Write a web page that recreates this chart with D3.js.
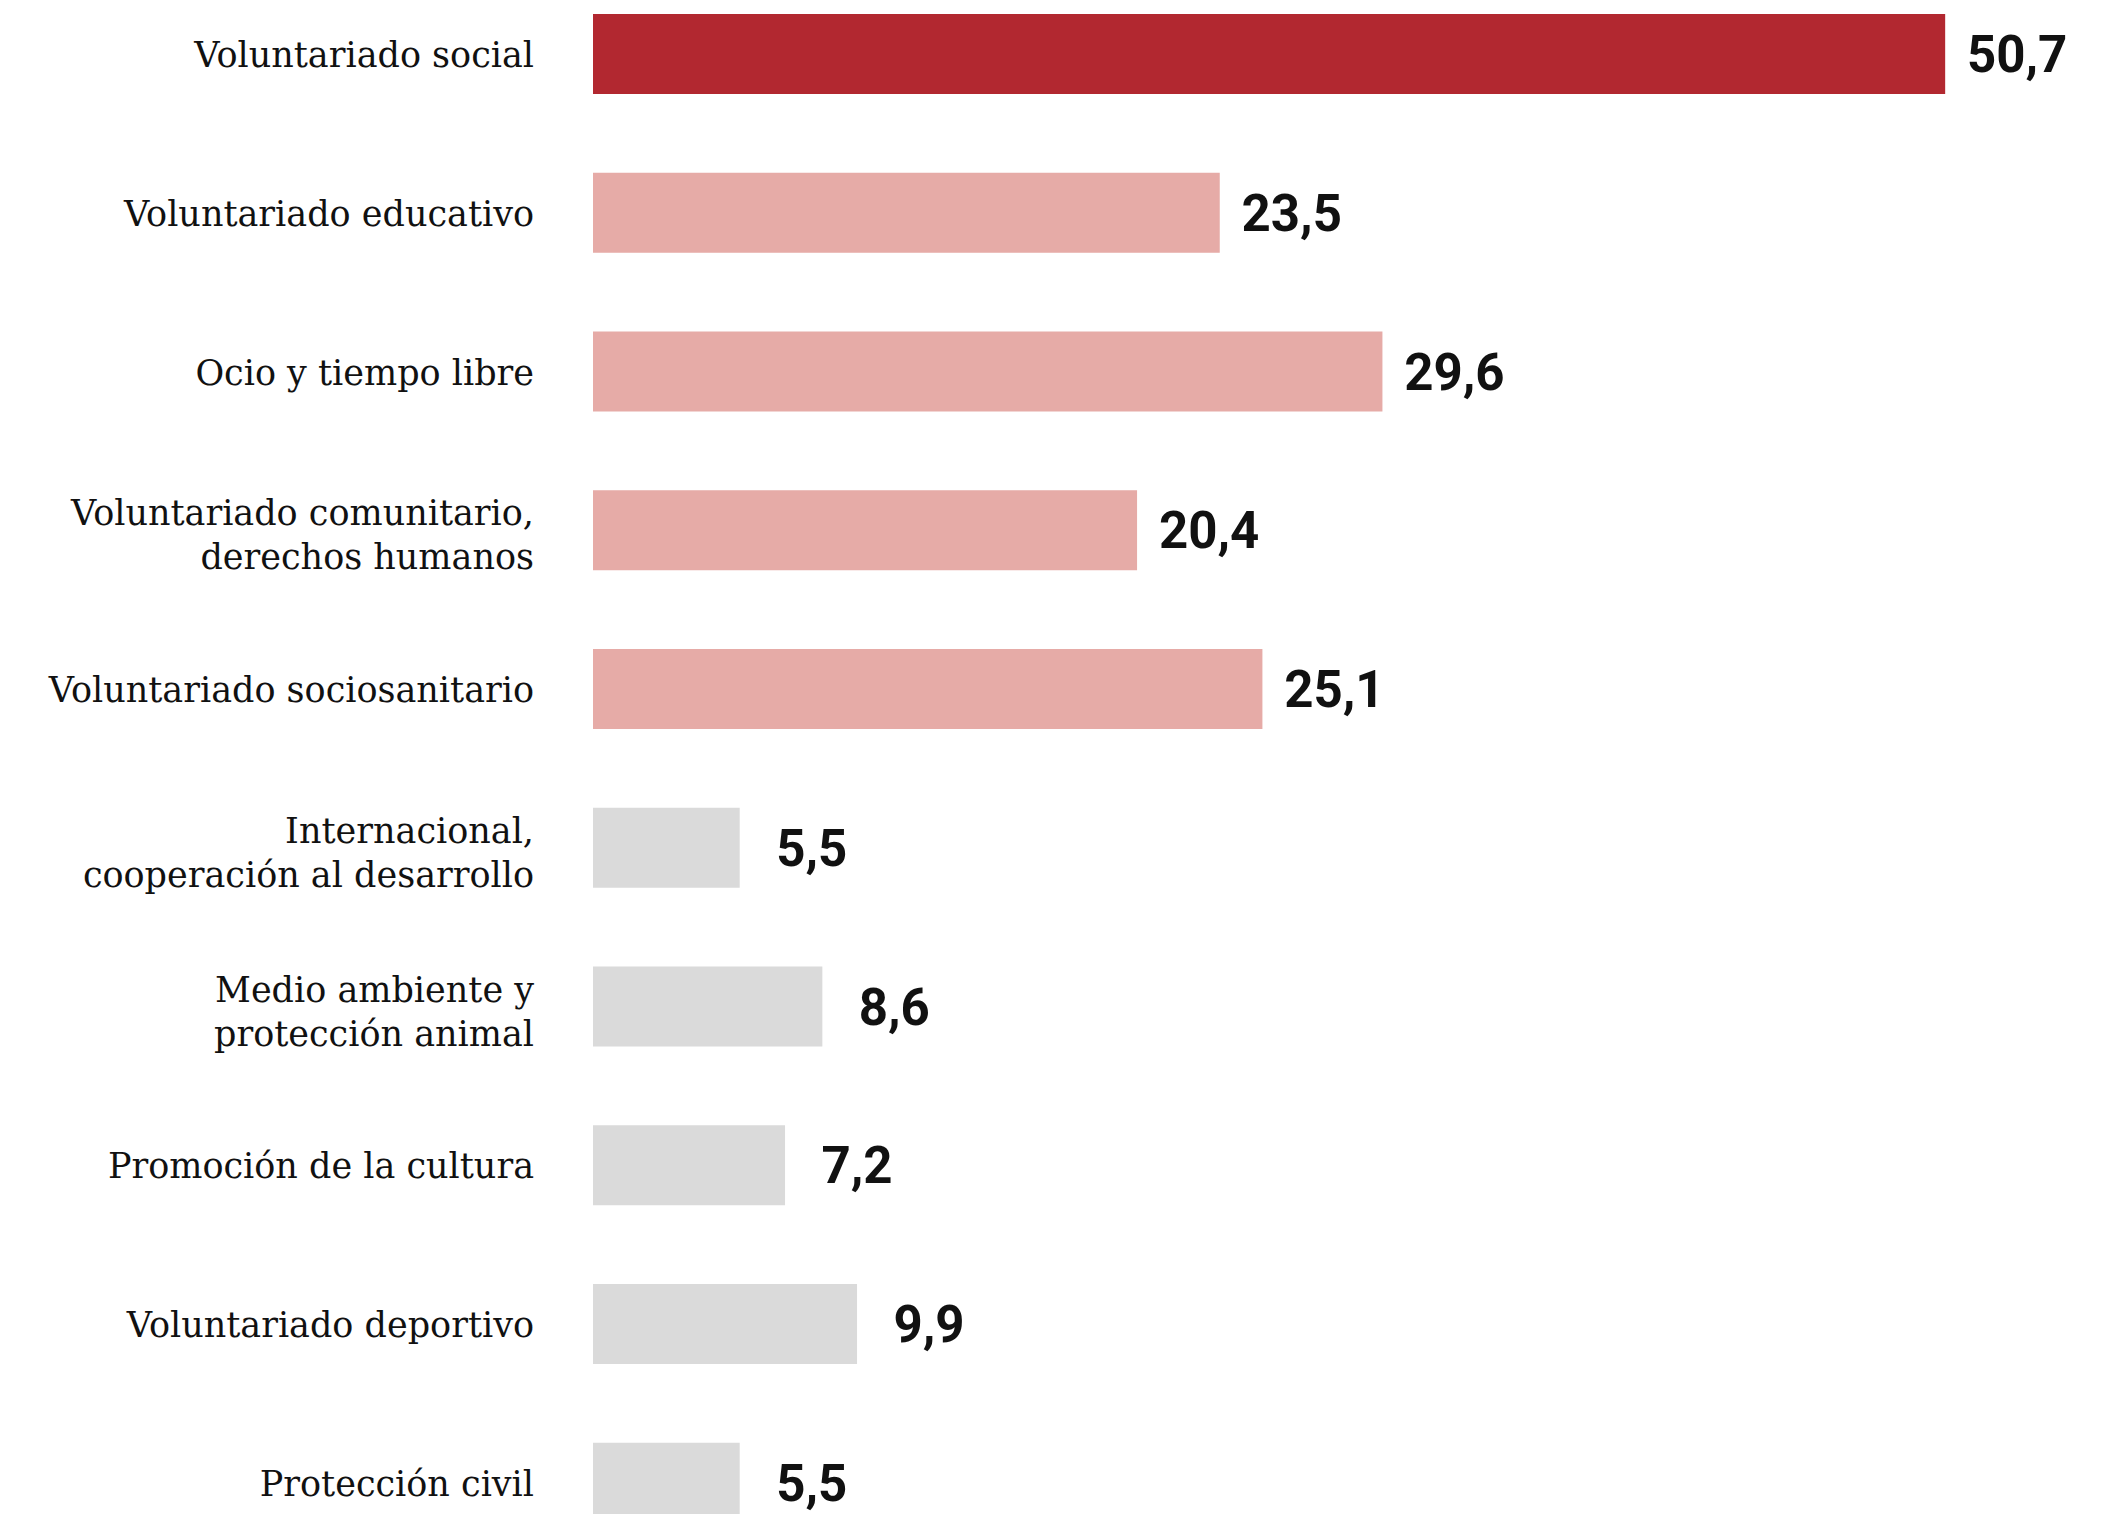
<!DOCTYPE html>
<html>
<head>
<meta charset="utf-8">
<script src="https://cdn.jsdelivr.net/npm/d3@7"></script>
<style>
  html, body { margin: 0; padding: 0; background: #ffffff; overflow: hidden; }
  svg { display: block; }
</style>
</head>
<body>
<svg id="chart" width="2121" height="1514"></svg>
<script>
// ---- data ----
const categories = [
  ["Voluntariado social"],
  ["Voluntariado educativo"],
  ["Ocio y tiempo libre"],
  ["Voluntariado comunitario,", "derechos humanos"],
  ["Voluntariado sociosanitario"],
  ["Internacional,", "cooperación al desarrollo"],
  ["Medio ambiente y", "protección animal"],
  ["Promoción de la cultura"],
  ["Voluntariado deportivo"],
  ["Protección civil"]
];
const values = [50.7, 23.5, 29.6, 20.4, 25.1, 5.5, 8.6, 7.2, 9.9, 5.5];
const valueLabels = ["50,7", "23,5", "29,6", "20,4", "25,1", "5,5", "8,6", "7,2", "9,9", "5,5"];
const groups = ["main", "mid", "mid", "mid", "mid", "low", "low", "low", "low", "low"];

// ---- layout ----
const colors = { main: "#B22830", mid: "#E6ABA7", low: "#DADADA" };
const svg = d3.select("#chart");
const x0 = 593;
const pxPerUnit = 26.67;
const x = d3.scaleLinear().domain([0, 50.7]).range([x0, x0 + 50.7 * pxPerUnit]);
const idx = d3.range(values.length);

const bh = 80;
const step = 158.75;
const top0 = 14;
const y = d3.scaleLinear().domain([0, 1]).range([top0, top0 + step]);
const yTop = i => y(i);

svg.selectAll("rect.bar")
  .data(idx)
  .join("rect")
  .attr("class", "bar")
  .attr("x", x(0))
  .attr("y", i => yTop(i))
  .attr("width", i => x(values[i]) - x(0))
  .attr("height", bh)
  .attr("fill", i => colors[groups[i]]);

// value labels
svg.selectAll("text.val")
  .data(idx)
  .join("text")
  .attr("class", "val")
  .attr("x", i => x(values[i]) + 72)
  .attr("y", i => yTop(i) + bh / 2 + 18)
  .attr("text-anchor", "middle")
  .attr("font-family", "Roboto, 'Noto Sans', sans-serif")
  .attr("font-weight", 700)
  .attr("font-size", 51)
  .attr("fill", "#111")
  .text(i => valueLabels[i]);

// category labels
const lab = svg.selectAll("text.cat")
  .data(idx)
  .join("text")
  .attr("class", "cat")
  .attr("x", 534)
  .attr("text-anchor", "end")
  .attr("font-family", "'DejaVu Serif', serif")
  .attr("font-size", 35)
  .attr("fill", "#111");

lab.each(function(i) {
  const lines = categories[i];
  const c = yTop(i) + bh / 2;
  const t = d3.select(this);
  if (lines.length === 1) {
    t.append("tspan").attr("x", 534).attr("y", c + 13).text(lines[0]);
  } else {
    t.append("tspan").attr("x", 534).attr("y", c - 5).text(lines[0]);
    t.append("tspan").attr("x", 534).attr("y", c + 39).text(lines[1]);
  }
});
</script>
</body>
</html>
